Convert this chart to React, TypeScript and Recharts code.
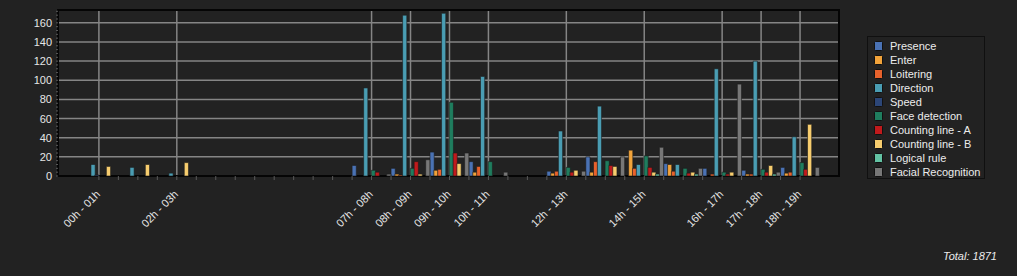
import React from 'react';
import { BarChart, Bar, XAxis, YAxis, CartesianGrid, ReferenceArea } from 'recharts';

// hourly counts per event type, 00h .. 18h
const hours = [0, 1, 2, 3, 4, 5, 6, 7, 8, 9, 10, 11, 12, 13, 14, 15, 16, 17, 18];
const hourLabels = [
  '00h - 01h', '01h - 02h', '02h - 03h', '03h - 04h', '04h - 05h', '05h - 06h', '06h - 07h',
  '07h - 08h', '08h - 09h', '09h - 10h', '10h - 11h', '11h - 12h', '12h - 13h', '13h - 14h',
  '14h - 15h', '15h - 16h', '16h - 17h', '17h - 18h', '18h - 19h',
];
const shownHours = [0, 2, 7, 8, 9, 10, 12, 14, 16, 17, 18];
const minorTicks = [0, 0.5, 1, 1.5, 2, 2.5, 3, 3.5, 4, 4.5, 5, 5.5, 6, 6.5, 7, 7.5, 8, 8.5, 9, 9.5, 10, 10.5, 11, 11.5, 12, 12.5, 13, 13.5, 14, 14.5, 15, 15.5, 16, 16.5, 17, 17.5, 18];
const yTicks = [0, 4, 8, 12, 16, 20, 24, 28, 32, 36, 40, 44, 48, 52, 56, 60, 64, 68, 72, 76, 80, 84, 88, 92, 96, 100, 104, 108, 112, 116, 120, 124, 128, 132, 136, 140, 144, 148, 152, 156, 160, 164, 168, 172];
const yLabels = [0, 20, 40, 60, 80, 100, 120, 140, 160];

const presence =          [0, 0, 0, 0, 0, 0, 0, 11, 8, 25, 15, 0, 5, 20, 0, 13, 8, 6, 9];
const enter =             [0, 0, 0, 0, 0, 0, 0, 0, 2, 6, 4, 0, 3, 4, 27, 12, 0, 2, 3];
const loitering =         [0, 0, 0, 0, 0, 0, 0, 0, 1, 7, 10, 0, 5, 15, 8, 5, 2, 2, 4];
const direction =         [12, 9, 3, 0, 0, 0, 0, 92, 168, 170, 104, 0, 47, 73, 12, 12, 112, 120, 41];
const speed =             [1, 0, 0, 0, 0, 0, 0, 0, 0, 0, 0, 0, 0, 0, 0, 0, 0, 0, 0];
const faceDetection =     [0, 0, 0, 0, 0, 0, 0, 6, 8, 77, 15, 0, 9, 16, 21, 8, 4, 7, 14];
const countingLineA =     [0, 0, 0, 0, 0, 0, 0, 4, 15, 24, 0, 0, 4, 11, 9, 3, 2, 4, 7];
const countingLineB =     [10, 12, 14, 0, 0, 0, 0, 0, 2, 13, 0, 0, 6, 10, 4, 4, 4, 11, 54];
const logicalRule =       [0, 0, 0, 0, 0, 0, 0, 0, 0, 0, 0, 0, 0, 0, 2, 2, 0, 2, 0];
const facialRecognition = [0, 0, 0, 0, 0, 0, 0, 2, 17, 24, 4, 0, 5, 20, 30, 8, 96, 4, 9];
const total = 1871;

const series = [
  { key: 'presence', name: 'Presence', color: '#4a72b4', values: presence },
  { key: 'enter', name: 'Enter', color: '#f2a33a', values: enter },
  { key: 'loitering', name: 'Loitering', color: '#e8622c', values: loitering },
  { key: 'direction', name: 'Direction', color: '#4a9db3', values: direction },
  { key: 'speed', name: 'Speed', color: '#2c4677', values: speed },
  { key: 'faceDetection', name: 'Face detection', color: '#1f7d5e', values: faceDetection },
  { key: 'countingLineA', name: 'Counting line - A', color: '#c01a1c', values: countingLineA },
  { key: 'countingLineB', name: 'Counting line - B', color: '#f7cd6e', values: countingLineB },
  { key: 'logicalRule', name: 'Logical rule', color: '#63c2a3', values: logicalRule },
  { key: 'facialRecognition', name: 'Facial Recognition', color: '#777777', values: facialRecognition },
];

const data = hours.map((h, i) => {
  const row: Record<string, number> = { hour: h };
  series.forEach((s) => { row[s.key] = s.values[i]; });
  return row;
});

const FONT = '"Liberation Sans", Arial, sans-serif';

const HourTick = (props: any) => {
  const { x, y, payload } = props;
  if (!shownHours.includes(payload.value)) return null;
  const tx = x + 2;
  const ty = y + 13;
  return (
    <text x={tx} y={ty} transform={`rotate(-45 ${tx} ${ty})`} textAnchor="end" fill="#e6e6e6" fontSize={11} fontFamily={FONT}>
      {hourLabels[payload.value]}
    </text>
  );
};

const CountTick = (props: any) => {
  const { x, y, payload } = props;
  if (!yLabels.includes(payload.value)) return null;
  return (
    <text x={x} y={y} dy={4} textAnchor="end" fill="#e6e6e6" fontSize={11} fontFamily={FONT}>
      {payload.value}
    </text>
  );
};

export default function App() {
  return (
    <div style={{ position: 'absolute', left: 0, top: 0, width: 1017, height: 276, background: '#222222', fontFamily: FONT }}>
      <BarChart width={1017} height={276} data={data} margin={{ top: 10, right: 178, bottom: 70, left: 28 }} barGap={-0.35}>
        <CartesianGrid stroke="#858585" strokeWidth={1.5} horizontalValues={yLabels.slice(1)} verticalValues={shownHours} />
        <XAxis
          type="number"
          dataKey="hour"
          domain={[-1.05, 19]}
          ticks={minorTicks}
          interval={0}
          height={30}
          axisLine={false}
          tickSize={4}
          tickLine={{ stroke: '#5a5a5a' }}
          tick={<HourTick />}
        />
        <YAxis
          domain={[0, 173.4]}
          ticks={yTicks}
          interval={0}
          width={30}
          axisLine={false}
          tickSize={2}
          tickMargin={4}
          tickLine={{ stroke: '#5a5a5a' }}
          tick={<CountTick />}
        />
        {series.map((s) => (
          <Bar key={s.key} dataKey={s.key} name={s.name} fill={s.color} stroke="#1c1c1c" strokeWidth={0.6} barSize={4.2} isAnimationActive={false} />
        ))}
        <ReferenceArea x1={-1.05} x2={19} y1={0} y2={173.4} fill="none" stroke="#050505" strokeWidth={2} />
      </BarChart>

      <div style={{ position: 'absolute', left: 867, top: 36, width: 118, height: 143, border: '1px solid #101010', paddingTop: 2, boxSizing: 'border-box' }}>
        {series.map((s) => (
          <div key={s.key} style={{ height: 14, display: 'flex', alignItems: 'center', color: '#ececec', fontSize: 11, whiteSpace: 'nowrap' }}>
            <span style={{ display: 'inline-block', width: 7, height: 8, marginLeft: 6, marginRight: 7, background: s.color, border: '1px solid #111', borderRadius: 1.5 }} />
            {s.name}
          </div>
        ))}
      </div>

      <div style={{ position: 'absolute', right: 20, top: 250, color: '#ececec', fontSize: 11, fontStyle: 'italic' }}>
        Total: {total}
      </div>
    </div>
  );
}
